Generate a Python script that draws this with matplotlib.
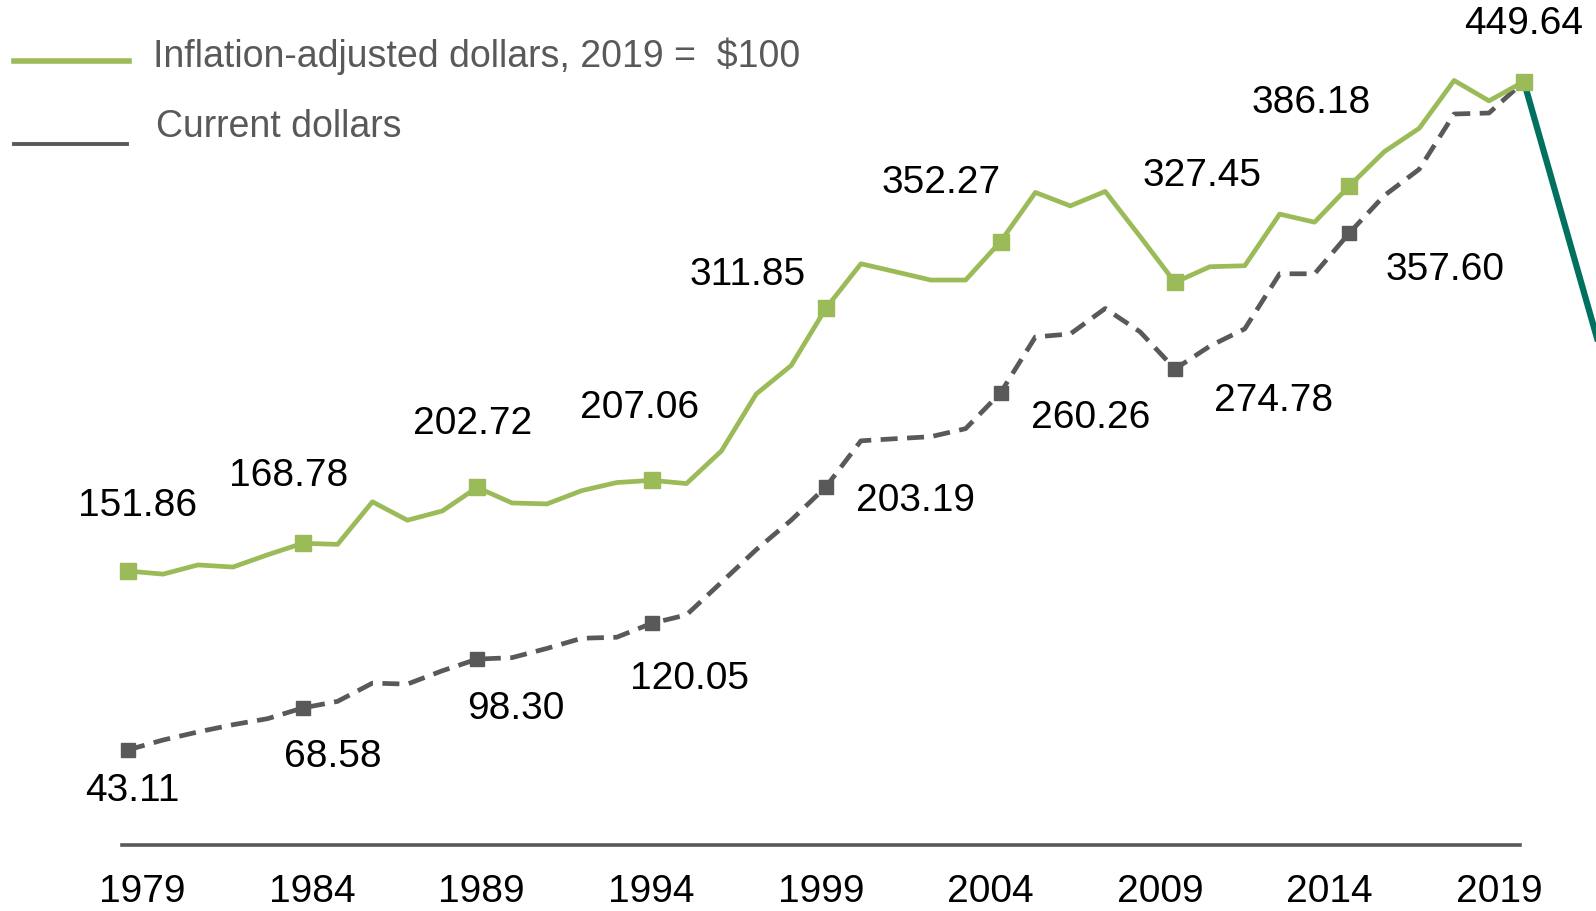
import numpy as np
import matplotlib
matplotlib.use('Agg')
import matplotlib.pyplot as plt
from matplotlib.lines import Line2D

# -------------------------------
# 1. Data
# -------------------------------
years = list(range(1979, 2020))

inflation_adjusted = [151.86, 150.0, 155.6, 154.3, 161.8, 168.78, 168.1, 194.0, 182.8, 188.4,
                      202.72, 193.3, 192.7, 200.8, 205.7, 207.06, 205.1, 224.9, 259.6, 276.9,
                      311.85, 338.8, 333.9, 328.9, 328.9, 352.27, 382.2, 374.0, 382.8, 355.4,
                      327.45, 337.0, 337.6, 369.0, 364.1, 386.18, 407.0, 421.2, 450.3, 437.9,
                      449.64]

current_dollars = [43.11, 49.1, 54.0, 58.4, 62.1, 68.58, 72.6, 83.7, 83.1, 91.2,
                   98.30, 99.2, 104.8, 111.0, 111.6, 120.05, 125.2, 145.0, 164.9, 182.8,
                   203.19, 231.1, 232.4, 233.6, 238.5, 260.26, 294.3, 296.1, 311.6, 297.4,
                   274.78, 288.7, 299.2, 332.7, 332.7, 357.60, 380.3, 396.3, 429.9, 430.5,
                   449.64]

tick_years = ['1979', '1984', '1989', '1994', '1999', '2004', '2009', '2014', '2019']

legend_labels = ['Inflation-adjusted dollars, 2019 =  $100', 'Current dollars']

GREEN = '#9BBB59'
GRAY = '#595959'
TEAL = '#00705F'
plt.rcParams['font.family'] = ['Liberation Sans', 'DejaVu Sans']

# -------------------------------
# 2. Figure and axes
# -------------------------------
fig = plt.figure(figsize=(15.96, 9.12), dpi=100)
ax = fig.add_axes([0.0765, 0.0725, 0.8757, 0.9275])
ax.set_xlim(1978.825, 2018.88)
ax.set_ylim(-14.7, 499.86)

for side in ['top', 'right', 'left']:
    ax.spines[side].set_visible(False)
ax.spines['bottom'].set_color(GRAY)
ax.spines['bottom'].set_linewidth(2.6)
ax.set_yticks([])
ax.set_xticks(np.linspace(1979.4, 2018.3, 9))
ax.set_xticklabels(tick_years)
ax.tick_params(axis='x', length=0, pad=20, labelsize=28, labelcolor='black')

# -------------------------------
# 3. Lines
# -------------------------------
ax.plot(years, current_dollars, color=GRAY, lw=3.4, dashes=(3.6, 2.0),
        marker='s', markersize=10.5, markevery=list(range(0, 40, 5)),
        clip_on=False, zorder=3)
ax.plot(years, inflation_adjusted, color=GREEN, lw=3.4,
        marker='s', markersize=12, markevery=5, clip_on=False, zorder=4)

# teal stroke running off the right edge from the last point
run_x = 2.07 * 2
run_y = 154.2 * 2
ax.plot([years[-1], years[-1] + run_x],
        [inflation_adjusted[-1], inflation_adjusted[-1] - run_y],
        color=TEAL, lw=4.5, clip_on=False, zorder=2)

# -------------------------------
# 4. Data labels
# -------------------------------
green_offsets = [(6.6, 47.6), (-10.3, 49.1), (-2.9, 46.2), (-8.8, 52.8), (-56.4, 24.2),
                 (-42.5, 43.2), (19.8, 77.7), (-27.9, 60.1), (0, 42.5)]
gray_offsets = [(2.9, -28.6), (22, -34.5), (27.9, -35.2), (27.1, -39.6), (64.5, -9.5),
                (65.2, -17.6), (71.1, -22), (68.9, -25.7)]

for k, off in enumerate(green_offsets):
    i = k * 5
    ax.annotate(f'{inflation_adjusted[i]:.2f}', (years[i], inflation_adjusted[i]),
                xytext=off, textcoords='offset points', ha='center', va='center',
                fontsize=28, color='black', annotation_clip=False)

for k, off in enumerate(gray_offsets):
    i = k * 5
    ax.annotate(f'{current_dollars[i]:.2f}', (years[i], current_dollars[i]),
                xytext=off, textcoords='offset points', ha='center', va='center',
                fontsize=28, color='black', annotation_clip=False)

# -------------------------------
# 5. Legend (drawn by hand)
# -------------------------------
fig.add_artist(Line2D([0.009, 0.081], [0.932, 0.932], color=GREEN, lw=4,
                      transform=fig.transFigure))
fig.add_artist(Line2D([0.009, 0.0797], [0.8415, 0.8415], color=GRAY, lw=2.8,
                      transform=fig.transFigure))
fig.text(0.0957, 0.9386, legend_labels[0], fontsize=27, color=GRAY, va='center', ha='left')
fig.text(0.0976, 0.8605, legend_labels[1], fontsize=27, color=GRAY, va='center', ha='left')

fig.savefig('out.png', dpi=100)
